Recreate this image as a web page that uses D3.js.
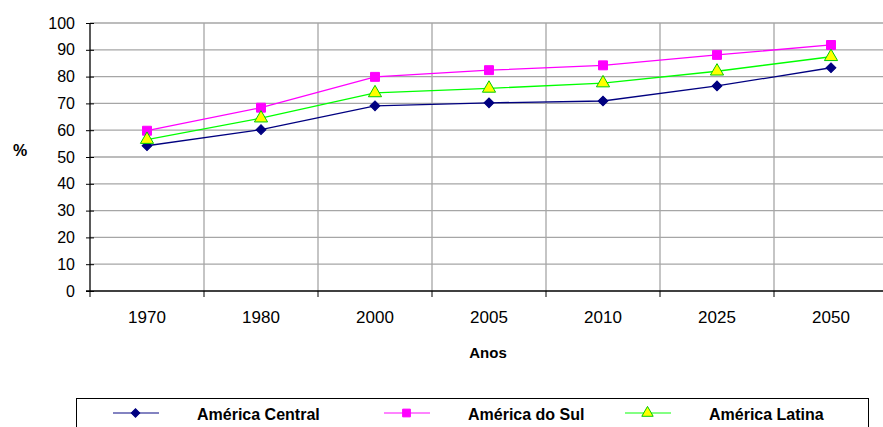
<!DOCTYPE html>
<html>
<head>
<meta charset="utf-8">
<script src="https://cdn.jsdelivr.net/npm/d3@7"></script>
<style>
  body { margin: 0; background: #fff; }
  text { font-family: "Liberation Sans", Arial, sans-serif; }
</style>
</head>
<body>
<svg width="883" height="427"></svg>
<script>
// data
const years = ["1970", "1980", "2000", "2005", "2010", "2025", "2050"];
const americaCentral = [54.2, 60.2, 69.1, 70.2, 70.9, 76.5, 83.3];
const americaSul = [59.8, 68.4, 79.9, 82.4, 84.2, 88.1, 91.8];
const americaLatina = [56.5, 64.5, 73.9, 75.6, 77.6, 82.0, 87.4];
const yTicks = [0, 10, 20, 30, 40, 50, 60, 70, 80, 90, 100];

const series = [
  { name: "América Central", values: americaCentral, line: "#000080", fill: "#000080", stroke: "#000080", shape: d3.symbolSquare, size: 48, rot: 45 },
  { name: "América do Sul", values: americaSul, line: "#ff00ff", fill: "#ff00ff", stroke: "#ff00ff", shape: d3.symbolSquare, size: 80, rot: 0 },
  { name: "América Latina", values: americaLatina, line: "#00ff00", fill: "#ffff00", stroke: "#00cc00", shape: d3.symbolTriangle, size: 75, rot: 0 }
];

const svg = d3.select("svg");
const plotLeft = 90, plotTop = 23, plotBottom = 291;
const band = 114;

const x = d3.scaleBand().domain(years).range([plotLeft, plotLeft + band * years.length]);
const y = d3.scaleLinear().domain([0, 100]).range([plotBottom, plotTop]);

// gridlines
svg.append("g")
  .selectAll("line")
  .data(yTicks.filter(d => d > 0))
  .join("line")
  .attr("x1", plotLeft).attr("x2", 883)
  .attr("y1", d => y(d)).attr("y2", d => y(d))
  .attr("stroke", "#a6a6a6").attr("stroke-width", 1.3);

svg.append("g")
  .selectAll("line")
  .data(years.slice(1))
  .join("line")
  .attr("x1", d => x(d)).attr("x2", d => x(d))
  .attr("y1", plotTop).attr("y2", plotBottom)
  .attr("stroke", "#a6a6a6").attr("stroke-width", 1.3);

// axes
const yAxis = svg.append("g")
  .attr("transform", "translate(" + plotLeft + ",0)")
  .call(d3.axisLeft(y).tickValues(yTicks).tickSize(5));
yAxis.select(".domain").attr("stroke", "#000").attr("stroke-width", 1.3).attr("d", "M0," + plotTop + "V" + plotBottom);
yAxis.selectAll(".tick line").attr("x1", 4).attr("x2", -4).attr("stroke", "#000");
yAxis.selectAll("text").attr("x", -15).style("font-size", "16px").attr("fill", "#000");

const xAxis = svg.append("g")
  .attr("transform", "translate(0," + plotBottom + ")")
  .call(d3.axisBottom(x).tickSize(0).tickPadding(20));
xAxis.select(".domain").attr("stroke", "#000").attr("stroke-width", 1.3).attr("d", "M" + (plotLeft - 4) + ",0H883");
xAxis.selectAll("text").style("font-size", "17px").attr("fill", "#000");
xAxis.selectAll(".tickmark")
  .data(years)
  .join("line")
  .attr("class", "tickmark")
  .attr("x1", d => x(d)).attr("x2", d => x(d))
  .attr("y1", 0).attr("y2", 6)
  .attr("stroke", "#000");

// axis titles
svg.append("text")
  .attr("x", 20).attr("y", 156)
  .attr("text-anchor", "middle")
  .style("font-size", "16px").style("font-weight", "bold")
  .text("%");

svg.append("text")
  .attr("x", 488).attr("y", 358)
  .attr("text-anchor", "middle")
  .style("font-size", "15px").style("font-weight", "bold")
  .text("Anos");

// lines and markers
const cx = d => x(d) + x.bandwidth() / 2;
const line = d3.line()
  .x((d, i) => cx(years[i]))
  .y(d => y(d));

series.forEach(s => {
  svg.append("path")
    .datum(s.values)
    .attr("fill", "none")
    .attr("stroke", s.line)
    .attr("stroke-width", 1.3)
    .attr("d", line);
  svg.append("g")
    .selectAll("path")
    .data(s.values)
    .join("path")
    .attr("transform", (d, i) => "translate(" + cx(years[i]) + "," + y(d) + ") rotate(" + s.rot + ")")
    .attr("d", d3.symbol(s.shape, s.size))
    .attr("fill", s.fill)
    .attr("stroke", s.stroke)
    .attr("stroke-width", 1);
});

// legend
svg.append("rect")
  .attr("x", 76.5).attr("y", 398.5)
  .attr("width", 792).attr("height", 40)
  .attr("fill", "none").attr("stroke", "#000").attr("stroke-width", 1);

const legendX = [113, 384, 625];
series.forEach((s, i) => {
  const g = svg.append("g").attr("transform", "translate(" + legendX[i] + ",413)");
  g.append("line")
    .attr("x1", 0).attr("x2", 46)
    .attr("stroke", s.line).attr("stroke-width", 1.3)
    .attr("stroke-opacity", 0.65);
  g.append("path")
    .attr("transform", "translate(22.5,0) rotate(" + s.rot + ")")
    .attr("d", d3.symbol(s.shape, s.size * 0.75))
    .attr("fill", s.fill).attr("stroke", s.stroke);
  g.append("text")
    .attr("x", 84).attr("y", 7)
    .style("font-size", "16px").style("font-weight", "bold")
    .text(s.name);
});
</script>
</body>
</html>
